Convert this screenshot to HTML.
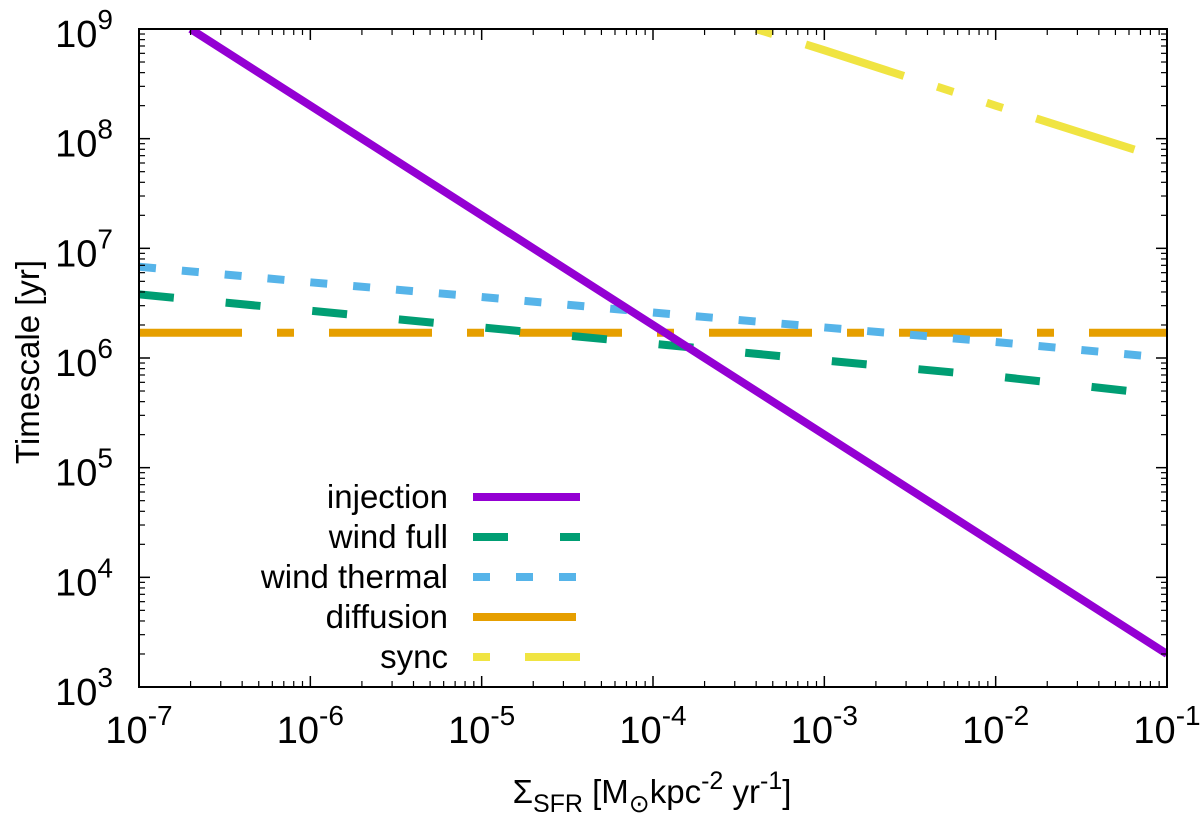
<!DOCTYPE html>
<html><head><meta charset="utf-8"><style>
body{margin:0;background:#fff}
svg text{font-family:"Liberation Sans",sans-serif;fill:#000}
</style></head><body>
<svg id="chart" width="1200" height="818" xmlns="http://www.w3.org/2000/svg">
<g id="marks"></g>
<g id="axes"></g>
</svg>
<script>
const xTickExps = [-7,-6,-5,-4,-3,-2,-1];
const yTickExps = [3,4,5,6,7,8,9];
const injX = [2e-7,1e-6,1e-5,1e-4,1e-3,1e-2,1e-1];
const injY = [1e9,2e8,2e7,2e6,2e5,2e4,2e3];
const windFullX = [1e-7,1e-6,1e-5,1e-4,1e-3,1e-2,6e-2];
const windFullY = [3.8e6,2.7e6,1.9e6,1.35e6,9.5e5,6.8e5,5.0e5];
const windThX = [1e-7,1e-6,1e-5,1e-4,1e-3,1e-2,1e-1];
const windThY = [6.8e6,4.9e6,3.6e6,2.6e6,1.9e6,1.4e6,1.0e6];
const diffX = [1e-7,1e-1];
const diffY = [1.7e6,1.7e6];
const syncX = [4e-4,1e-3,1e-2,1e-1];
const syncY = [1e9,6.4e8,2e8,6.4e7];

const L=139,R=1167,T=29,B=687;
const sx=v=>L+(Math.log10(v)+7)/6*(R-L);
const sy=v=>B-(Math.log10(v)-3)/6*(B-T);
const NS="http://www.w3.org/2000/svg";
const marks=document.getElementById('marks'), axes=document.getElementById('axes');
function mk(tag,attrs,parent){const e=document.createElementNS(NS,tag);for(const k in attrs)e.setAttribute(k,attrs[k]);parent.appendChild(e);return e;}

const series=[
 {name:'injection',x:injX,y:injY,c:'#9400d3',d:'',o:0,lo:0},
 {name:'wind-full',x:windFullX,y:windFullY,c:'#009e73',d:'35 52',o:0,lo:0},
 {name:'wind-thermal',x:windThX,y:windThY,c:'#56b4e9',d:'17 26',o:0,lo:0},
 {name:'diffusion',x:diffX,y:diffY,c:'#e69f00',d:'103 35 17 35',o:0,lo:0},
 {name:'sync',x:syncX,y:syncY,c:'#f0e442',d:'103 35 17 35 17 35',o:190,lo:190}
];
const clip=mk('clipPath',{id:'pc'},document.getElementById('chart'));
mk('rect',{x:L,y:T,width:R-L,height:B-T},clip);
series.slice().reverse().forEach(s=>{
 const p=mk('polyline',{points:s.x.map((v,i)=>sx(v)+','+sy(s.y[i])).join(' '),fill:'none',stroke:s.c,'stroke-width':8,'stroke-dasharray':s.d,'stroke-dashoffset':s.o,'clip-path':'url(#pc)'},marks);
 
 
});
const labels=['injection','wind full','wind thermal','diffusion','sync'];
series.forEach((s,i)=>{
 const y=497+i*40;
 const t=mk('text',{x:448,y:y+11,'text-anchor':'end','font-size':33},axes);t.textContent=labels[i];
 
 
 const l=mk('line',{x1:473,x2:580,y1:y,y2:y,stroke:s.c,'stroke-width':8,'stroke-dasharray':s.d,'stroke-dashoffset':s.lo},axes);
 
 
});
const fr=mk('rect',{x:L,y:T,width:R-L,height:B-T,fill:'none',stroke:'#000','stroke-width':2},axes);


xTickExps.forEach(e=>{
 const x=sx(Math.pow(10,e));
 mk('line',{x1:x,x2:x,y1:B,y2:B-11,stroke:'#000','stroke-width':1.5},axes);
 mk('line',{x1:x,x2:x,y1:T,y2:T+11,stroke:'#000','stroke-width':1.5},axes);
 if(e<-1)for(let m=2;m<10;m++){const xm=sx(m*Math.pow(10,e));
  mk('line',{x1:xm,x2:xm,y1:B,y2:B-6,stroke:'#000','stroke-width':1.2},axes);
  mk('line',{x1:xm,x2:xm,y1:T,y2:T+6,stroke:'#000','stroke-width':1.2},axes);}
 const t=mk('text',{x:x,y:743,'text-anchor':'middle','font-size':38},axes);
 t.innerHTML='10<tspan dy="-18" font-size="28">'+e+'</tspan>';
 
 
});
yTickExps.forEach(e=>{
 const y=sy(Math.pow(10,e));
 mk('line',{x1:L,x2:L+11,y1:y,y2:y,stroke:'#000','stroke-width':1.5},axes);
 mk('line',{x1:R,x2:R-11,y1:y,y2:y,stroke:'#000','stroke-width':1.5},axes);
 if(e<9)for(let m=2;m<10;m++){const ym=sy(m*Math.pow(10,e));
  mk('line',{x1:L,x2:L+6,y1:ym,y2:ym,stroke:'#000','stroke-width':1.2},axes);
  mk('line',{x1:R,x2:R-6,y1:ym,y2:ym,stroke:'#000','stroke-width':1.2},axes);}
 const t=mk('text',{x:113,y:y+18,'text-anchor':'end','font-size':38},axes);
 t.innerHTML='10<tspan dy="-18" font-size="28">'+e+'</tspan>';
 
 
});
const yt=mk('text',{x:0,y:0,transform:'translate(39,362) rotate(-90)','text-anchor':'middle','font-size':33},axes);
yt.textContent='Timescale [yr]';


const xt=mk('text',{x:652,y:803,'text-anchor':'middle','font-size':33},axes);
xt.innerHTML='Σ<tspan dy="9" font-size="25">SFR</tspan><tspan dy="-9"> [M</tspan><tspan dy="9" font-size="25">⊙</tspan><tspan dy="-9">kpc</tspan><tspan dy="-14" font-size="25">-2</tspan><tspan dy="14"> yr</tspan><tspan dy="-14" font-size="25">-1</tspan><tspan dy="14">]</tspan>';


</script>
</body></html>
